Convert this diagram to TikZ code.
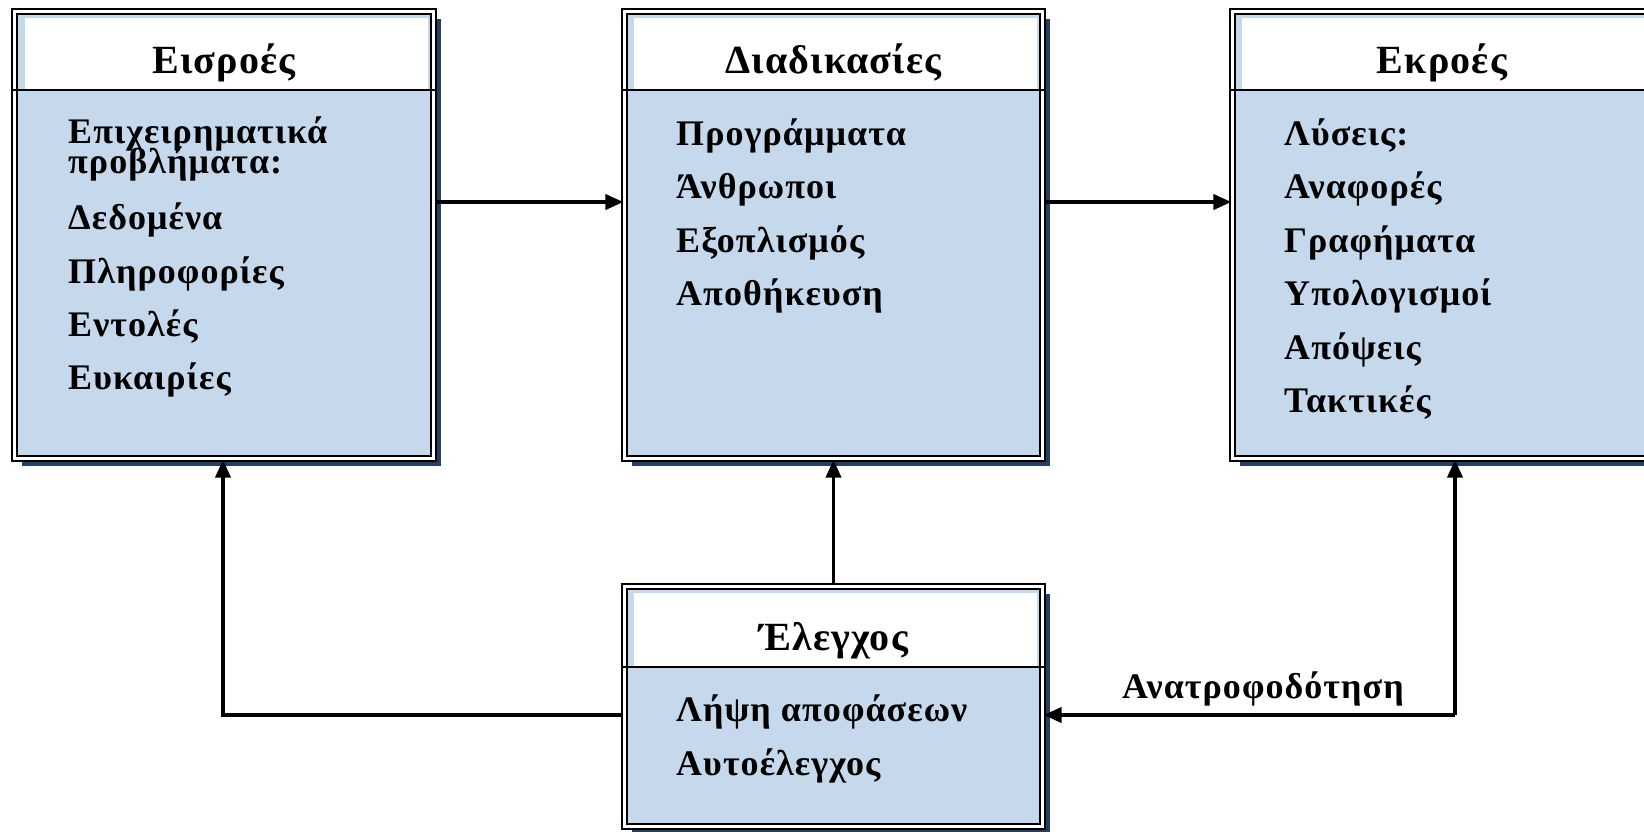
\documentclass[tikz,border=0pt]{standalone}
\usepackage{fontspec}
\setmainfont{Liberation Serif}[LetterSpace=3]
\usetikzlibrary{arrows.meta,shadows}
\definecolor{boxblue}{HTML}{C6D9EC}
\definecolor{shadowblue}{HTML}{243F60}
\tikzset{
  frame/.style={draw=black, line width=2.2pt, double=white, double distance=2.5pt,
    fill=boxblue, inner sep=0pt,
    drop shadow={shadow xshift=7.5pt, shadow yshift=-7.5pt, fill=shadowblue, opacity=1}},
  divider/.style={line width=1.4pt},
  headtext/.style={font=\fontsize{40}{44}\selectfont\bfseries, inner sep=0pt, anchor=base},
  bodytext/.style={font=\fontsize{36}{38}\selectfont\bfseries, inner sep=0pt, anchor=base west},
  conn/.style={line width=3.8pt, -{Triangle[length=18pt,width=15pt]}},
}
\begin{document}
\begin{tikzpicture}[x=1pt,y=-1pt]
\useasboundingbox (0,0) rectangle (1644,831);
% boxes
\node[frame, minimum width=419pt, minimum height=447pt] (in) at (224,235) {};
\node[frame, minimum width=418pt, minimum height=447pt] (proc) at (833.5,235) {};
\node[frame, minimum width=419pt, minimum height=447pt] (out) at (1442,235) {};
\node[frame, minimum width=418pt, minimum height=240pt] (ctrl) at (833.5,706.5) {};
% headers
\fill[white] (25,18) rectangle (428,90);
\fill[white] (634,18) rectangle (1037,90);
\fill[white] (1242,18) rectangle (1646,90);
\fill[white] (634,593) rectangle (1037,667);
\draw[divider] (11,90) -- (437,90);
\draw[divider] (621,90) -- (1046,90);
\draw[divider] (1229,90) -- (1655,90);
\draw[divider] (621,667) -- (1046,667);
\node[headtext] (inh) at (224,73) {Εισροές};
\node[headtext] (proch) at (833.5,73) {Διαδικασίες};
\node[headtext] (outh) at (1442,73) {Εκροές};
\node[headtext] (ctrlh) at (833.5,650) {Έλεγχος};
% body texts
\node[bodytext] (i1) at (68,143) {Επιχειρηματικά};
\node[bodytext] (i2) at (68,173) {προβλήματα:};
\node[bodytext] (i3) at (68,229) {Δεδομένα};
\node[bodytext] (i4) at (68,283) {Πληροφορίες};
\node[bodytext] (i5) at (68,336) {Εντολές};
\node[bodytext] (i6) at (68,389) {Ευκαιρίες};
\node[bodytext] (p1) at (676,145) {Προγράμματα};
\node[bodytext] (p2) at (676,198) {Άνθρωποι};
\node[bodytext] (p3) at (676,252) {Εξοπλισμός};
\node[bodytext] (p4) at (676,305) {Αποθήκευση};
\node[bodytext] (o1) at (1284,145) {Λύσεις:};
\node[bodytext] (o2) at (1284,198) {Αναφορές};
\node[bodytext] (o3) at (1284,252) {Γραφήματα};
\node[bodytext] (o4) at (1284,305) {Υπολογισμοί};
\node[bodytext] (o5) at (1284,359) {Απόψεις};
\node[bodytext] (o6) at (1284,412) {Τακτικές};
\node[bodytext] (c1) at (676,721) {Λήψη αποφάσεων};
\node[bodytext] (c2) at (676,775) {Αυτοέλεγχος};
% connectors
\coordinate (lcorner) at (223,715);
\coordinate (rcorner) at (1455,715);
\draw[conn] (in.east |- 0,202) -- (proc.west |- 0,202);
\draw[conn] (proc.east |- 0,202) -- (out.west |- 0,202);
\draw[conn] (ctrl.north) -- (proc.south);
\draw[conn] (ctrl.west |- lcorner) -- (lcorner) -- (in.south -| lcorner);
\draw[conn] (rcorner) -- (out.south -| rcorner);
\draw[conn] (rcorner) -- (ctrl.east |- rcorner);
\node[bodytext, anchor=base] (fb) at (1263,698) {Ανατροφοδότηση};
\end{tikzpicture}
\end{document}
